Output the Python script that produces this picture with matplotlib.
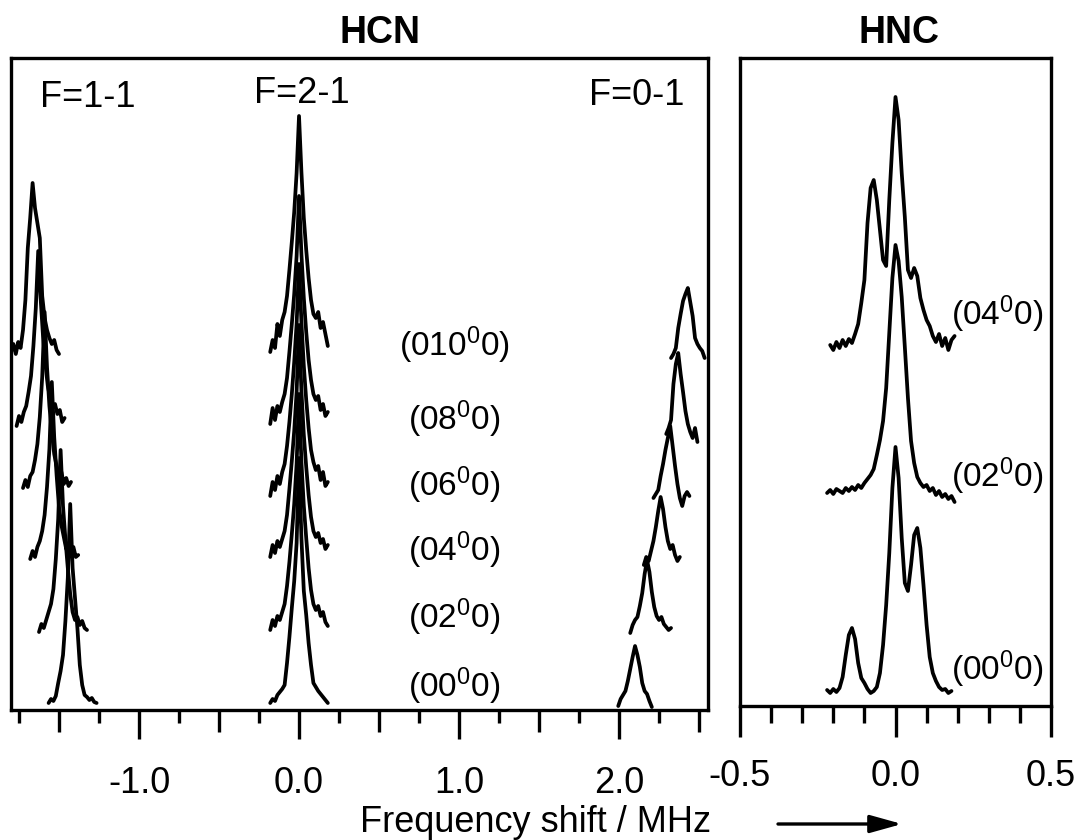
import numpy as np
import matplotlib
matplotlib.use("Agg")
import matplotlib.pyplot as plt

plt.rcParams["font.family"] = ["Liberation Sans", "DejaVu Sans"]
plt.rcParams["mathtext.default"] = "regular"

nan = np.nan

# vibrational states, bottom to top
hcn_states = ["(00$^0$0)", "(02$^0$0)", "(04$^0$0)", "(06$^0$0)", "(08$^0$0)", "(010$^0$0)"]
hcn_offset = [7, 76, 143, 208, 274, 352]

# line centres (MHz, relative to F=2-1)
f11_center = [-1.43, -1.49, -1.545, -1.59, -1.63, -1.665]
f21_center = [0.0, 0.0, 0.0, 0.0, 0.0, 0.0]
f01_center = [2.10, 2.175, 2.26, 2.32, 2.37, 2.43]

# F=1-1 traces (arb. units) on a common offset grid
f11_dx = [-0.135, -0.12, -0.105, -0.09, -0.075, -0.06, -0.045, -0.03, -0.015, 0.0,
          0.015, 0.03, 0.045, 0.06, 0.075, 0.09, 0.105, 0.12, 0.135, 0.15, 0.165]
f11_int = [
    [0, 4, 2, 7, 20, 32, 48, 82, 125, 199, 135, 105, 75, 38, 18, 8, 6, 3, 5, 1, 0],
    [2, 10, 6, 14, 22, 30, 45, 75, 115, 184, 128, 95, 66, 40, 22, 14, 17, 9, 13, 6, 4],
    [8, 16, 10, 20, 26, 36, 52, 80, 118, 185, 130, 92, 60, 42, 30, 18, 24, 14, 20, 10, 12],
    [14, 22, 15, 26, 30, 42, 58, 85, 125, 190, 135, 96, 70, 48, 36, 26, 30, 18, 24, 16, 20],
    [10, 20, 14, 24, 30, 44, 60, 90, 128, 185, 138, 100, 72, 50, 38, 28, 32, 22, 26, 14, 18],
    [6, 14, 4, 16, 10, 28, 58, 110, 140, 175, 150, 135, 120, 62, 40, 28, 20, 14, 18, 8, 4],
]

# F=2-1 traces
f21_dx = [-0.18, -0.165, -0.15, -0.135, -0.12, -0.105, -0.09, -0.075, -0.06, -0.045, -0.03, -0.015, 0.0,
          0.015, 0.03, 0.045, 0.06, 0.075, 0.09, 0.105, 0.12, 0.135, 0.15, 0.165, 0.18]
f21_int = [
    [0, 4, 2, 8, 11, 14, 18, 40, 66, 95, 122, 160, 245, 165, 112, 88, 60, 38, 20, 16, 12, 9, 6, 3, 0],
    [4, 14, 8, 18, 14, 22, 30, 48, 72, 100, 130, 170, 240, 172, 128, 96, 66, 44, 30, 24, 28, 18, 22, 12, 8],
    [10, 22, 14, 26, 20, 28, 36, 52, 78, 106, 136, 175, 242, 176, 132, 100, 72, 50, 36, 30, 34, 24, 28, 18, 22],
    [6, 20, 12, 26, 18, 30, 38, 56, 80, 108, 140, 178, 238, 180, 136, 102, 74, 52, 40, 32, 36, 22, 30, 16, 20],
    [12, 28, 16, 30, 24, 34, 42, 58, 84, 112, 142, 180, 240, 182, 138, 104, 76, 56, 42, 36, 40, 26, 32, 20, 24],
    [6, 18, 10, 34, 22, 38, 46, 62, 88, 116, 146, 185, 242, 186, 140, 108, 80, 58, 44, 40, 46, 30, 36, 24, 12],
]

# F=0-1 traces
f01_dx = [-0.105, -0.09, -0.075, -0.06, -0.045, -0.03, -0.015, 0.0,
          0.015, 0.03, 0.045, 0.06, 0.075, 0.09, 0.105, 0.12, 0.135, 0.15]
f01_int = [
    [-3, 4, 8, 12, 22, 34, 46, 57, 48, 36, 20, 12, 9, 2, -4, nan, nan, nan],
    [1, 9, 14, 17, 28, 41, 60, 74, 62, 42, 27, 18, 14, 17, 10, 7, 4, 6],
    [2, 10, 6, 16, 26, 40, 56, 70, 58, 40, 26, 18, 22, 12, 6, 10, nan, nan],
    [4, 8, 12, 26, 38, 52, 64, 76, 56, 36, 18, 4, -4, 6, 10, 6, nan, nan],
    [nan, nan, 2, 8, 16, 52, 72, 83, 62, 44, 25, 12, 4, -2, 8, -6, nan, nan],
    [0, 4, 10, 30, 44, 57, 64, 70, 56, 42, 20, 14, 10, 7, 0, nan, nan, nan],
]

# HNC
hnc_states = ["(00$^0$0)", "(02$^0$0)", "(04$^0$0)"]
hnc_offset = [13, 213, 358]
hnc_x = [round(-0.22 + 0.01 * k, 2) for k in range(42)]
hnc_int = [
    [3, 0, 4, 1, 5, 16, 38, 58, 65, 54, 30, 15, 10, 4, 0, 2, 6, 20, 48, 88, 140,
     205, 246, 215, 155, 110, 102, 128, 158, 165, 145, 108, 68, 36, 20, 12, 6, 3, 4, 0, 2, nan],
    [0, 3, -1, 4, 2, 0, 5, 2, 6, 3, 8, 5, 10, 14, 18, 24, 38, 53, 72, 105, 160,
     215, 248, 232, 196, 146, 95, 52, 30, 16, 10, 6, 8, 2, 5, -2, 2, -4, -1, -6, -3, -9],
    [nan, 3, -2, 6, 0, 8, 2, 9, 5, 14, 24, 45, 68, 125, 160, 168, 148, 118, 88, 82, 148,
     205, 251, 228, 175, 131, 78, 70, 80, 72, 50, 38, 28, 22, 12, 6, 14, 2, 10, -2, 8, 12],
]

LW = 2.7      # trace width
FW = 2.4      # frame / tick width
FS = 26

fig = plt.figure(figsize=(10.82, 8.40), dpi=100)
W, H = 1082, 840
ax1 = fig.add_axes([11 / W, 1 - 710 / H, (708 - 11) / W, (710 - 58) / H])
ax2 = fig.add_axes([740 / W, 1 - 706 / H, (1051 - 740) / W, (706 - 58) / H])

# HCN panel
for i in range(len(hcn_states)):
    for centers, dx, ints in [(f11_center, f11_dx, f11_int),
                              (f21_center, f21_dx, f21_int),
                              (f01_center, f01_dx, f01_int)]:
        x = np.array(dx) + centers[i]
        y = np.array(ints[i], dtype=float) + hcn_offset[i]
        ax1.plot(x, y, color="black", lw=LW, solid_joinstyle="round", solid_capstyle="round")
    dy = 2 if i == len(hcn_states) - 1 else 6
    ax1.text(0.97, hcn_offset[i] + dy, hcn_states[i], ha="center", va="baseline", fontsize=24)

ax1.text(-1.32, 603, "F=1-1", ha="center", va="baseline", fontsize=FS)
ax1.text(0.02, 607, "F=2-1", ha="center", va="baseline", fontsize=FS)
ax1.text(2.11, 605, "F=0-1", ha="center", va="baseline", fontsize=FS)

ax1.set_xlim(-1.8, 2.556)
ax1.set_ylim(0, 652)
ax1.set_yticks([])
ax1.set_xticks([-1, 0, 1, 2])
ax1.set_xticklabels(["-1.0", "0.0", "1.0", "2.0"])
ax1.set_xticks([-1.75, -1.25, -0.75, -0.25, 0.25, 0.75, 1.25, 1.75, 2.25], minor=True)
ax1.tick_params(axis="x", which="major", direction="out", length=21, width=FW, pad=19, labelsize=FS)
ax1.tick_params(axis="x", which="minor", direction="out", length=9.5, width=FW)
sec = ax1.secondary_xaxis("bottom")
sec.set_xticks([-1.5, -0.5, 0.5, 1.5, 2.5])
sec.tick_params(axis="x", direction="out", length=16, width=FW, labelbottom=False)
sec.spines["bottom"].set_visible(False)

# HNC panel
for i in range(len(hnc_states)):
    y = np.array(hnc_int[i], dtype=float) + hnc_offset[i]
    ax2.plot(hnc_x, y, color="black", lw=LW, solid_joinstyle="round", solid_capstyle="round")
hnc_label_dy = [13, 6, 23]
for i in range(len(hnc_states)):
    ax2.text(0.18, hnc_offset[i] + hnc_label_dy[i], hnc_states[i], ha="left", va="baseline", fontsize=24)

ax2.set_xlim(-0.5, 0.5)
ax2.set_ylim(0, 648)
ax2.set_yticks([])
ax2.set_xticks([-0.5, 0.0, 0.5])
ax2.set_xticklabels(["-0.5", "0.0", "0.5"])
ax2.set_xticks([-0.4, -0.3, -0.2, -0.1, 0.1, 0.2, 0.3, 0.4], minor=True)
ax2.tick_params(axis="x", which="major", direction="out", length=22, width=FW, pad=16.5, labelsize=FS)
ax2.tick_params(axis="x", which="minor", direction="out", length=12, width=FW)

for ax in (ax1, ax2):
    for s in ax.spines.values():
        s.set_linewidth(FW)

fig.text(380 / W, 1 - 43 / H, "HCN", ha="center", va="baseline", fontsize=27, fontweight="bold")
fig.text(899 / W, 1 - 43 / H, "HNC", ha="center", va="baseline", fontsize=27, fontweight="bold")
fig.text(536 / W, 1 - 832 / H, "Frequency shift / MHz", ha="center", va="baseline", fontsize=FS)
fig.add_artist(matplotlib.patches.FancyArrowPatch(
    (778 / W, 1 - 824 / H), (902 / W, 1 - 824 / H), transform=fig.transFigure,
    arrowstyle="-|>,head_length=0.97,head_width=0.27", mutation_scale=20,
    lw=FW, color="black", shrinkA=0, shrinkB=0))

fig.savefig("out.png", dpi=100)
